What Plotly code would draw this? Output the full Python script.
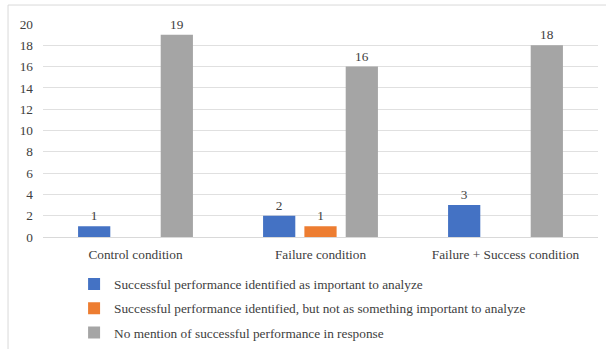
import plotly.graph_objects as go

categories = ["Control condition", "Failure condition", "Failure + Success condition"]
series_names = [
    "Successful performance identified as important to analyze",
    "Successful performance identified, but not as something important to analyze",
    "No mention of successful performance in response",
]
important = [1, 2, 3]
not_important = [None, 1, None]
no_mention = [19, 16, 18]
colors = ["#4472C4", "#ED7D31", "#A5A5A5"]
y_ticks = [0, 2, 4, 6, 8, 10, 12, 14, 16, 18, 20]

font_family = "'Liberation Serif', 'Times New Roman', serif"
fs = 13.3
txt_color = "#404040"

fig = go.Figure()
for i, (name, vals, col) in enumerate(zip(series_names, [important, not_important, no_mention], colors)):
    fig.add_trace(go.Bar(
        x=categories, y=vals, name=name, legendgroup=f"g{i}",
        marker=dict(color=col, line=dict(width=0)),
        text=[("" if v is None else str(v)) for v in vals],
        textposition="outside",
        textfont=dict(family=font_family, size=fs, color=txt_color),
        outsidetextfont=dict(family=font_family, size=fs, color=txt_color),
        cliponaxis=False,
        hoverinfo="skip",
    ))

fig.update_layout(
    width=606, height=349,
    margin=dict(l=43, r=8, t=24, b=112, autoexpand=False),
    paper_bgcolor="white", plot_bgcolor="white",
    font=dict(family=font_family, size=fs, color=txt_color),
    barmode="group", bargap=0.33, bargroupgap=0.22,
    showlegend=True,
    legend=dict(
        orientation="v", x=0.056, y=0.23, xref="paper", yref="container",
        xanchor="left", yanchor="top",
        font=dict(family=font_family, size=fs, color=txt_color),
        tracegroupgap=4, itemwidth=30,
    ),
    xaxis=dict(
        showline=True, linecolor="#d9d9d9", linewidth=1, ticks="",
        tickfont=dict(family=font_family, size=fs, color=txt_color),
        automargin=False, ticklabelstandoff=5,
    ),
    yaxis=dict(
        range=[0, 20], tickvals=y_ticks, showgrid=True, gridcolor="#e0e0e0",
        zeroline=False, showline=False, ticks="",
        tickfont=dict(family=font_family, size=fs, color=txt_color),
        automargin=False, ticklabelstandoff=9,
    ),
    shapes=[
        dict(type="line", xref="paper", yref="paper", x0=-0.063, x1=1.02, y0=1.089, y1=1.089,
             line=dict(color="#d9d9d9", width=1)),
        dict(type="line", xref="paper", yref="paper", x0=-0.063, x1=-0.063, y0=1.089, y1=-0.6,
             line=dict(color="#d9d9d9", width=1)),
    ],
)

fig.write_html("out.html", config={"displayModeBar": False},
               post_script="document.body.style.margin='0';")
